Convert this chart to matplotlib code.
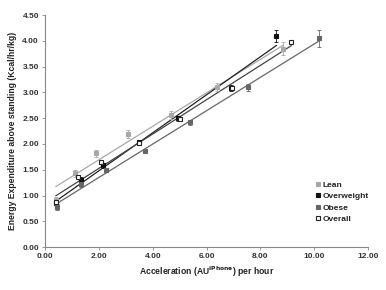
import numpy as np
import matplotlib
matplotlib.use("Agg")
import matplotlib.pyplot as plt

plt.rcParams['font.family'] = ['Liberation Sans', 'DejaVu Sans']

# Data
lean_x = [0.40, 1.11, 1.90, 3.07, 4.67, 6.40, 8.85]
lean_y = [0.92, 1.43, 1.82, 2.20, 2.56, 3.10, 3.85]
lean_err = [0.06, 0.07, 0.07, 0.08, 0.07, 0.08, 0.12]

over_x = [0.40, 1.33, 2.15, 3.48, 4.95, 6.90, 8.60]
over_y = [0.86, 1.30, 1.59, 2.03, 2.50, 3.08, 4.09]
over_err = [0.05, 0.05, 0.05, 0.05, 0.05, 0.06, 0.12]

obese_x = [0.44, 1.33, 2.26, 3.70, 5.40, 7.56, 10.20]
obese_y = [0.78, 1.22, 1.49, 1.86, 2.42, 3.10, 4.05]
obese_err = [0.06, 0.05, 0.04, 0.04, 0.05, 0.07, 0.16]

all_x = [0.40, 1.22, 2.07, 3.50, 5.00, 6.93, 9.15]
all_y = [0.88, 1.36, 1.65, 2.02, 2.48, 3.08, 3.97]

series = [
    ("Lean", lean_x, lean_y, lean_err, "#a8a8a8", "#a8a8a8", "#a8a8a8"),
    ("Overweight", over_x, over_y, over_err, "#111111", "#111111", "#222222"),
    ("Obese", obese_x, obese_y, obese_err, "#666666", "#666666", "#666666"),
    ("Overall", all_x, all_y, None, "white", "#222222", "#444444"),
]

fig = plt.figure(figsize=(3.86, 2.90), dpi=100)
ax = fig.add_axes([0.117, 0.148, 0.836, 0.800])

for name, xs, ys, err, fc, ec, lc in series:
    xs = np.array(xs); ys = np.array(ys)
    m, b = np.polyfit(xs, ys, 1)
    xl = np.array([xs.min(), xs.max()])
    ax.plot(xl, m * xl + b, color=lc, lw=0.9, zorder=2)
    if err is not None:
        ax.errorbar(xs, ys, yerr=err, fmt='none', ecolor=fc if fc != 'white' else ec,
                    elinewidth=0.6, capsize=1.5, capthick=0.6, zorder=3)
    ax.plot(xs, ys, 's', ms=3.2, mfc=fc, mec=ec, mew=0.8, ls='none', label=name, zorder=4)

ax.set_xlim(0, 12)
ax.set_ylim(0, 4.5)
ax.set_xticks(np.arange(0, 12.01, 2))
ax.set_yticks(np.arange(0, 4.51, 0.5))
ax.set_xticklabels([f"{v:.2f}" for v in np.arange(0, 12.01, 2)])
ax.set_yticklabels([f"{v:.2f}" for v in np.arange(0, 4.51, 0.5)])
for sp in ['top', 'right']:
    ax.spines[sp].set_visible(False)
for sp in ['left', 'bottom']:
    ax.spines[sp].set_color('#888888')
    ax.spines[sp].set_linewidth(0.8)
ax.tick_params(axis='both', labelsize=6, length=2.5, width=0.6, color='#888888', pad=2)
for lbl in ax.get_xticklabels() + ax.get_yticklabels():
    lbl.set_fontweight('bold')
    lbl.set_color('#333333')

ax.set_xlabel("Acceleration (AU$^{\\mathbf{iPhone}}$) per hour", fontsize=6.2, fontweight='bold', color='#222222', labelpad=3)
ax.set_ylabel("Energy Expenditure above standing (Kcal/hr/kg)", fontsize=6.2, fontweight='bold', color='#222222', labelpad=4)

leg = ax.legend(loc='upper left', bbox_to_anchor=(0.83, 0.30), frameon=False,
                fontsize=6, handlelength=0.5, handletextpad=0.3, labelspacing=0.45,
                markerscale=0.7, borderaxespad=0)
for t in leg.get_texts():
    t.set_fontweight('bold')
    t.set_color('#222222')

fig.savefig("out.png", dpi=100)
